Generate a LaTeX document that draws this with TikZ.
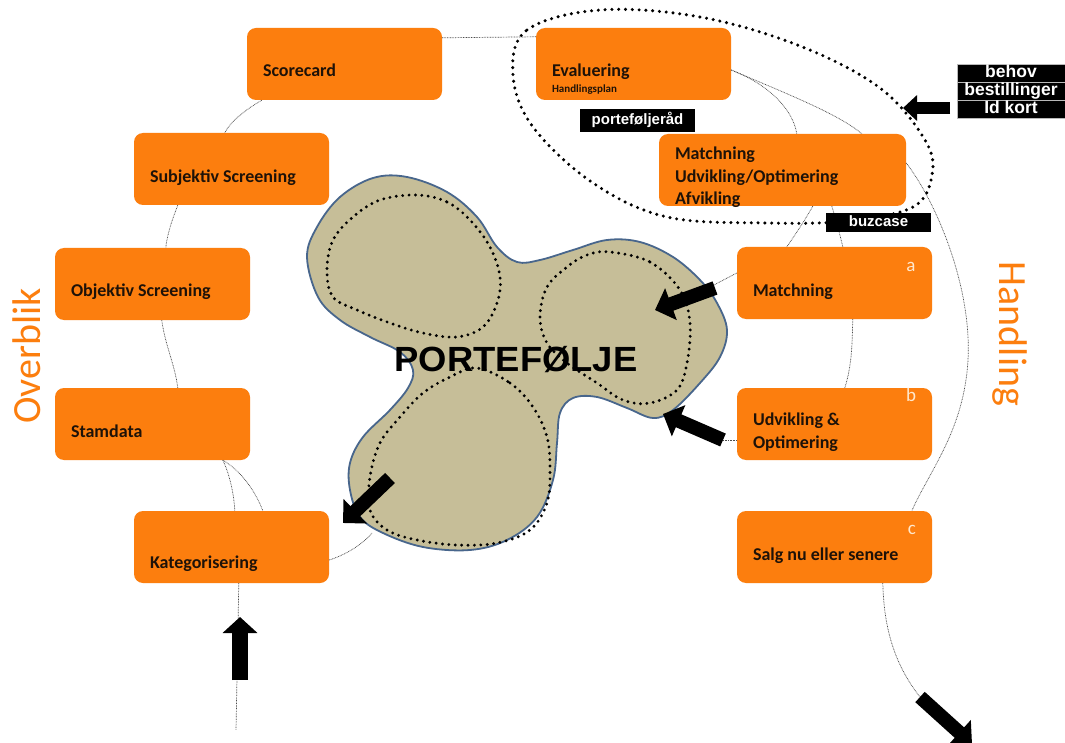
\documentclass[tikz,border=0pt]{standalone}
\usepackage{fontspec}
\setmainfont{Carlito}
\newfontfamily\arialfont{Liberation Sans}
\usetikzlibrary{arrows.meta,calc}
\definecolor{orng}{RGB}{252,126,14}
\definecolor{blobfill}{RGB}{198,190,152}
\definecolor{blobline}{RGB}{72,102,140}
\definecolor{boxtxt}{RGB}{30,18,8}
\definecolor{lettercol}{RGB}{255,232,205}
\begin{document}
\begin{tikzpicture}[x=1pt,y=-1pt,
  box/.style={fill=orng, rounded corners=9pt, minimum width=195pt, minimum height=72pt, inner sep=0pt},
  btext/.style={font=\bfseries\fontsize{18}{22.5}\selectfont, text=boxtxt, align=left, inner sep=0pt, anchor=base west},
  conn/.style={draw=black!70, line width=0.7pt, dash pattern=on 0.8pt off 0.8pt},
  bigdots/.style={draw=black, line width=3.4pt, dash pattern=on 0pt off 6.8pt, line cap=round},
  lobedots/.style={draw=black, line width=3.2pt, dash pattern=on 0pt off 6.4pt, line cap=round},
  blockarrow/.style={line width=14pt, -{Triangle[width=33pt,length=17pt]}},
  tag/.style={fill=black, text=white, font=\arialfont\bfseries\fontsize{15}{15}\selectfont, inner sep=0pt, text height=11pt, text depth=3pt},
  tagrow/.style={tag, draw=gray!55, line width=0.6pt, minimum width=108pt, minimum height=18pt, font=\arialfont\bfseries\fontsize{17.5}{17.5}\selectfont, text height=12.5pt, text depth=3.5pt},
  letter/.style={text=lettercol, font=\fontsize{19}{19}\selectfont, inner sep=0pt},
  side/.style={text=orng, font=\fontsize{40}{40}\selectfont, inner sep=0pt}
]
\useasboundingbox (0,0) rectangle (1065,743);
\fill[white] (0,0) rectangle (1065,743);

% portfolio blob
\draw[blobline, fill=blobfill, line width=1.8pt] plot[smooth cycle, tension=0.6] coordinates {
 (307,257) (317,227) (340,197) (373,178) (407,177) (447,192) (477,217) (497,247)
 (517,262) (540,260) (573,250) (607,240) (640,242) (673,257) (700,280) (717,303)
 (727,330) (720,357) (700,383) (673,410) (653,418) (627,408) (597,397) (573,398)
 (560,413) (557,443) (553,480) (537,517) (507,540) (470,550) (423,547) (383,533)
 (360,517) (350,490) (350,463) (363,437) (390,410) (408,388) (413,370) (400,352)
 (370,337) (340,320) (318,297)};
% inner dotted lobes
\draw[lobedots] plot[smooth cycle, tension=0.6] coordinates {
 (417,195) (447,202) (470,220) (490,247) (500,277) (497,303) (483,327) (457,337)
 (423,333) (390,323) (357,310) (333,297) (327,270) (333,240) (353,217) (380,200)};
\draw[lobedots] plot[smooth cycle, tension=0.6] coordinates {
 (610,252) (650,262) (680,290) (690,323) (687,363) (677,390) (650,403) (623,400)
 (597,383) (567,363) (547,343) (540,317) (547,287) (567,267) (587,255)};
\draw[lobedots] plot[smooth cycle, tension=0.6] coordinates {
 (477,368) (510,383) (533,407) (547,437) (550,470) (547,503) (530,530) (497,543)
 (457,545) (417,540) (387,530) (370,510) (370,477) (380,443) (400,417) (423,393) (450,377)};

% boxes
\node[box] (sc) at (344.5,64) {};
\node[box] (ev) at (633.5,64) {};
\node[box] (sub) at (231.5,169) {};
\node[box, minimum width=247pt] (mb) at (782.5,170) {};
\node[box] (obj) at (152.5,284) {};
\node[box] (ma) at (834.5,283) {};
\node[box] (st) at (152.5,424) {};
\node[box] (ub) at (834.5,424) {};
\node[box] (kat) at (231.5,547) {};
\node[box] (salg) at (834.5,547) {};

% coordinates for free connector ends
\coordinate (blobK) at (372,533);
\coordinate (blobM) at (710,287);
\coordinate (katEnd) at (236,730);
\coordinate (ubTail) at (723,440);
\coordinate (brTail) at (920,697);
\coordinate (brTip) at (972,744);
\coordinate (upTail) at (240,680);
\coordinate (upTip) at (240,617);
\coordinate (kaTail) at (390,478);
\coordinate (kaTip) at (343,523);
\coordinate (maTail) at (715,288);
\coordinate (maTip) at (655,310);
\coordinate (ubTip) at (663,414);
\coordinate (lfTail) at (950,108);
\coordinate (lfTip) at (903,108);

% connectors
\draw[conn] ($(sc.north east)+(0,10)$) -- ($(ev.north west)+(0,9)$);
\draw[conn] ($(sc.south west)+(15,0)$) .. controls (245,110) and (230,122) .. ($(sub.north west)+(91,0)$);
\draw[conn] ($(sub.south west)+(44,0)$) .. controls (172,220) and (167,235) .. ($(obj.north west)+(111,0)$);
\draw[conn] ($(obj.south west)+(107,0)$) .. controls (165,345) and (175,365) .. ($(st.north west)+(123,0)$);
\draw[conn] ($(st.south west)+(168,0)$) .. controls (230,475) and (234,495) .. ($(kat.north west)+(101,0)$);
\draw[conn] ($(st.south west)+(168,0)$) .. controls (240,470) and (255,490) .. ($(kat.north west)+(129,0)$);
\draw[conn] ($(kat.east)+(0,13)$) .. controls (345,555) and (362,545) .. (blobK);
\draw[conn] ($(kat.south west)+(105,0)$) -- (katEnd);
\draw[conn] ($(ev.east)+(0,6)$) .. controls (770,85) and (793,110) .. ($(mb.north west)+(138,0)$);
\draw[conn] ($(ev.east)+(0,6)$) .. controls (790,95) and (840,115) .. ($(mb.north west)+(203,0)$);
\draw[conn] ($(mb.east)+(0,-7)$) .. controls (935,200) and (972,285) .. (968,360) .. controls (964,430) and (930,470) .. ($(salg.north west)+(175,0)$);
\draw[conn] ($(mb.south west)+(154,0)$) .. controls (805,220) and (795,235) .. ($(ma.north west)+(50,0)$);
\draw[conn] ($(mb.south west)+(173,0)$) .. controls (836,220) and (840,235) .. ($(ma.north west)+(106,0)$);
\draw[conn] ($(ma.west)+(0,-10)$) -- (blobM);
\draw[conn] ($(ma.south west)+(116,0)$) .. controls (852,345) and (852,365) .. ($(ub.north west)+(108,0)$);
\draw[conn] ($(ub.west)+(0,16)$) -- (ubTail);
\draw[conn] ($(salg.south west)+(146,0)$) .. controls (884,630) and (895,665) .. (brTail);

% box texts
\node[btext] (sct) at ($(sc.west)+(16,13)$) {Scorecard};
\node[btext] (evt) at ($(ev.west)+(16,13)$) {Evaluering};
\node[btext, font=\bfseries\fontsize{11}{11}\selectfont] (evh) at ($(ev.west)+(16,29)$) {Handlingsplan};
\node[btext] (subt) at ($(sub.west)+(16,14)$) {Subjektiv Screening};
\node[btext] (mbt) at ($(mb.west)+(16,35)$) {Matchning\\Udvikling/Optimering\\Afvikling};
\node[btext] (objt) at ($(obj.west)+(16,13)$) {Objektiv Screening};
\node[btext] (mat) at ($(ma.west)+(16,14)$) {Matchning};
\node[btext] (stt) at ($(st.west)+(16,13)$) {Stamdata};
\node[btext] (ubt) at ($(ub.west)+(16,24)$) {Udvikling \&\\Optimering};
\node[btext] (katt) at ($(kat.west)+(16,21)$) {Kategorisering};
\node[btext] (salgt) at ($(salg.west)+(16,13)$) {Salg nu eller senere};

\node[letter] (la) at (911,267) {a};
\node[letter] (lb) at (911,395) {b};
\node[letter] (lc) at (912,530) {c};

% big dotted ellipse
\draw[bigdots] plot[smooth cycle, tension=0.6] coordinates {
 (513,75) (527,30) (600,10) (700,17) (800,46) (880,88) (925,140) (932,175)
 (913,207) (847,221) (767,223) (667,217) (593,183) (533,127)};

% tags
\node[tag, minimum width=115pt, minimum height=23pt] (pr) at (637.5,120.5) {porteføljeråd};
\node[tag, minimum width=105pt, minimum height=19pt] (bz) at (878.5,222.5) {buzcase};
\node[tagrow] (b1) at (1011,73) {behov};
\node[tagrow] (b2) at (1011,91) {bestillinger};
\node[tagrow] (b3) at (1011,109) {Id kort};

% PORTEFØLJE
\node[inner sep=0pt, anchor=base, font=\arialfont\bfseries\fontsize{35}{35}\selectfont] (pf) at (516,371) {\scalebox{1.04}[1]{PORTEFØLJE}};

% side labels
\node[side, rotate=90] (ov) at (27,356) {Overblik};
\node[side, rotate=-90] (hd) at (1010,334) {Handling};

% block arrows
\draw[blockarrow, line width=12pt, -{Triangle[width=25pt,length=14pt]}] (lfTail) -- (lfTip);
\draw[blockarrow, line width=16pt, -{Triangle[width=34pt,length=16pt]}] (upTail) -- (upTip);
\draw[blockarrow] (kaTail) -- (kaTip);
\draw[blockarrow] (maTail) -- (maTip);
\draw[blockarrow] (ubTail) -- (ubTip);
\draw[blockarrow] (brTail) -- (brTip);
\end{tikzpicture}
\end{document}
